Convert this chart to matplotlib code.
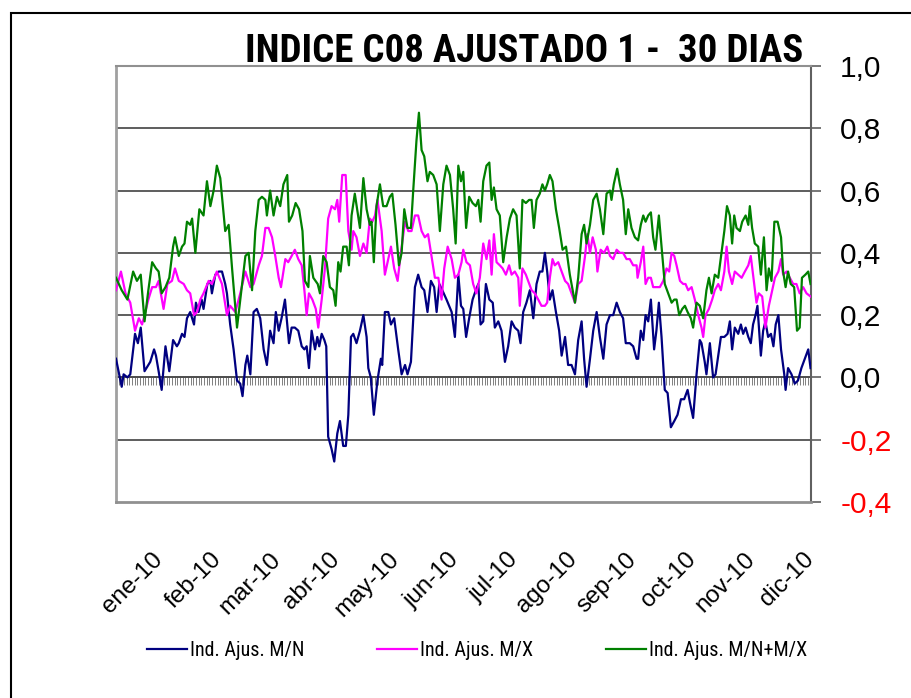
import matplotlib
matplotlib.use("Agg")
import matplotlib.pyplot as plt
import numpy as np
from matplotlib import font_manager
from matplotlib.patches import Rectangle

# --- data (day of year 2010, index value) ---
TITLE = "INDICE C08 AJUSTADO 1 -  30 DIAS"
MONTHS = ["ene-10", "feb-10", "mar-10", "abr-10", "may-10", "jun-10",
          "jul-10", "ago-10", "sep-10", "oct-10", "nov-10", "dic-10"]
Y_TICKS = [-0.4, -0.2, 0.0, 0.2, 0.4, 0.6, 0.8, 1.0]
NAMES = ["Ind. Ajus. M/N", "Ind. Ajus. M/X", "Ind. Ajus. M/N+M/X"]

MN = [(0, 0.06), (3, -0.03), (4, 0.01), (6, 0.00), (7.5, 0.01), (10, 0.14), (11.5, 0.11), (13, 0.16),
      (15, 0.02), (18, 0.05), (20, 0.09), (21, 0.07), (22.4, 0.02), (24, -0.04), (26, 0.10), (27, 0.06),
      (28, 0.02), (30, 0.12), (32, 0.10), (33, 0.11), (34.7, 0.14), (36, 0.13), (37.3, 0.19), (39, 0.21),
      (41, 0.17), (42, 0.24), (43.4, 0.21), (45, 0.25), (46, 0.22), (48, 0.30), (49.6, 0.31), (50.4, 0.27),
      (52.2, 0.33), (54, 0.34), (55.7, 0.34), (57.4, 0.30), (58.3, 0.27), (60, 0.17), (61.8, 0.09),
      (63.6, -0.01), (65.3, -0.02), (66.5, -0.06), (68, 0.04), (69, 0.07), (70.6, 0.01), (72.3, 0.21),
      (74, 0.22), (75.8, 0.19), (77.6, 0.09), (79.3, 0.04), (81, 0.15), (82.8, 0.11), (84, 0.21),
      (85.5, 0.15), (87, 0.19),
      (88.8, 0.25), (90.9, 0.11), (92.3, 0.16), (94, 0.16), (95.8, 0.15), (97.6, 0.10), (99, 0.09),
      (100.2, 0.10), (101.4, 0.03), (102.8, 0.15), (104.6, 0.09), (105.8, 0.13), (106.8, 0.10),
      (108.1, 0.14), (109.5, 0.12), (110.5, 0.10), (111.5, -0.19), (113.3, -0.23), (114.7, -0.27),
      (116.3, -0.18), (117.7, -0.14), (119.4, -0.22), (120.8, -0.22), (122.1, -0.12), (123.5, 0.13),
      (124.7, 0.14), (126.4, 0.11), (128.2, 0.15), (130, 0.20), (131.7, 0.13), (132.6, 0.03),
      (133.9, 0.00), (135.5, -0.12), (137.4, -0.01), (139.2, 0.06), (139.9, 0.04), (141.3, 0.21),
      (143.1, 0.21), (144.5, 0.17), (146.2, 0.19), (148.3, 0.09), (150.1, 0.01), (151.9, 0.04),
      (153.2, 0.01), (155, 0.05), (157.1, 0.29), (158.8, 0.33), (160.6, 0.29), (162, 0.28),
      (163.7, 0.21), (165.5, 0.31), (167.2, 0.29), (168.5, 0.21), (169.9, 0.30), (171.5, 0.28),
      (173.7, 0.25), (176.4, 0.21), (178.1, 0.13), (179.9, 0.33), (181.3, 0.23),
      (182.5, 0.22), (184, 0.13), (185.6, 0.19), (187.4, 0.25), (189.1, 0.28), (190.4, 0.30),
      (191.6, 0.17), (193, 0.18), (194.4, 0.30), (196.2, 0.25), (198, 0.24), (199.1, 0.16),
      (200.9, 0.18), (202.6, 0.15), (204.4, 0.05), (206.1, 0.10), (207.9, 0.18), (209.6, 0.16),
      (211.4, 0.15), (212.6, 0.11), (214, 0.21), (215.7, 0.24), (217.5, 0.28), (219.3, 0.19),
      (221, 0.30), (222.7, 0.34), (224.1, 0.34), (225.4, 0.40), (226.6, 0.34), (228, 0.25),
      (229.4, 0.28), (231.2, 0.21), (232.9, 0.15), (234.2, 0.07), (236, 0.13), (237.6, 0.04),
      (239.4, 0.04), (241.2, 0.01), (242.9, 0.12), (244.7, 0.18), (246, 0.06), (247.3, -0.03),
      (249.1, 0.06), (250.8, 0.15), (252.6, 0.21), (254.3, 0.13), (256.1, 0.06), (257.8, 0.17),
      (259.6, 0.20), (261.3, 0.20), (263.1, 0.24), (264.8, 0.21), (266.5, 0.19), (267.9, 0.11),
      (270, 0.11), (271.8, 0.10), (273.6, 0.06),
      (274.4, 0.06), (275.8, 0.15), (277.1, 0.12), (278.3, 0.20), (279.7, 0.18), (281.1, 0.25),
      (282.8, 0.09), (284, 0.15), (285.3, 0.24), (286.7, 0.13), (288.4, -0.04), (289.9, -0.05),
      (291.6, -0.16), (293.4, -0.14), (295.1, -0.12), (296.9, -0.07), (298.6, -0.07), (300.4, -0.04),
      (301.6, -0.08), (303.3, -0.13), (305.1, 0.01), (306.8, 0.12), (307.7, 0.11), (309.4, 0.05),
      (310.3, 0.01), (312.1, 0.11), (313.8, 0.00), (315.1, 0.01), (316.5, 0.07), (317.9, 0.13),
      (319.7, 0.13), (321.4, 0.14), (322.6, 0.18), (323.8, 0.09), (325.2, 0.16), (327, 0.14),
      (328.4, 0.17), (329.6, 0.14), (330.9, 0.16), (332.3, 0.13), (333.6, 0.11), (334.8, 0.17),
      (336.1, 0.20), (337.1, 0.23), (338.9, 0.07), (340.1, 0.15), (341.3, 0.18), (342.7, 0.13),
      (344.2, 0.14), (345.5, 0.10), (346.7, 0.17), (348.1, 0.20), (349.5, 0.09), (351.2, 0.01),
      (351.9, -0.04), (353.2, 0.03), (355, 0.01), (356.7, -0.02), (358.4, -0.01), (360.2, 0.03),
      (362, 0.06), (363.8, 0.09), (365, 0.03)]

MX = [(0, 0.28), (2.6, 0.34), (5, 0.27), (7.5, 0.24), (10, 0.15), (12, 0.19), (13.7, 0.17), (15.4, 0.21),
      (17, 0.25), (19, 0.29), (21, 0.29), (22.4, 0.31), (25, 0.22), (27, 0.30), (29.4, 0.31), (31, 0.35),
      (33, 0.31), (35.6, 0.30), (37.3, 0.28), (39, 0.27), (41, 0.20), (42.6, 0.21), (44.3, 0.25),
      (46, 0.27), (48.7, 0.31), (50.4, 0.30), (53, 0.34), (55.7, 0.30), (58.3, 0.20), (60, 0.23),
      (62.7, 0.21), (65.3, 0.27), (68, 0.34), (70.6, 0.29), (72.3, 0.30), (75, 0.36), (76.7, 0.39),
      (78.5, 0.48), (80.2, 0.48), (82, 0.45), (83.7, 0.39), (85.5, 0.32), (86.7, 0.29), (89, 0.38),
      (90.5, 0.37), (92.3, 0.39), (94, 0.41), (95.8, 0.38), (97.6, 0.36), (99, 0.28), (100.2, 0.20),
      (101.4, 0.27), (103.2, 0.25), (105, 0.22), (106.3, 0.16), (108.1, 0.25), (109.8, 0.35),
      (111.5, 0.51), (113.3, 0.55), (115.1, 0.54), (116.3, 0.57), (117.3, 0.50), (118.9, 0.65),
      (120.7, 0.65), (122.1, 0.47), (123.8, 0.41), (124.7, 0.47), (126.4, 0.45), (128.2, 0.39),
      (130, 0.43), (131.7, 0.40), (133.4, 0.51), (134.7, 0.50), (136.1, 0.52), (137.4, 0.57),
      (139.6, 0.47), (141.3, 0.33), (143.1, 0.38), (144.5, 0.42), (146.2, 0.35), (148, 0.31),
      (149.7, 0.40), (151.9, 0.50), (153.6, 0.47), (155.3, 0.47), (157.1, 0.52), (158.8, 0.52),
      (160.6, 0.47), (162.3, 0.45), (164, 0.46), (165.8, 0.39), (167.6, 0.32), (169.4, 0.32),
      (171.1, 0.25), (172.5, 0.35), (174.3, 0.42), (176.4, 0.38), (178.1, 0.32), (179.9, 0.33),
      (181.6, 0.37),
      (182.5, 0.41), (184.2, 0.37), (186, 0.36), (187.7, 0.30), (189.4, 0.27), (191.2, 0.32),
      (193, 0.43), (194.7, 0.38), (196.2, 0.44), (197.4, 0.33), (198.6, 0.46), (200, 0.37),
      (201.7, 0.36), (203.2, 0.35), (204.9, 0.33), (206.6, 0.36), (207.9, 0.33), (209.6, 0.34),
      (211.4, 0.32), (212.2, 0.23), (213.6, 0.35), (215.4, 0.33), (216.6, 0.31), (218.4, 0.28),
      (220.1, 0.27), (221.9, 0.25), (223.6, 0.23), (225.4, 0.23), (226.6, 0.24), (228, 0.32),
      (229.4, 0.38), (230.6, 0.36), (232.4, 0.37), (234.2, 0.34), (236, 0.31), (237.6, 0.30),
      (239.4, 0.27), (241.2, 0.24), (242.9, 0.30), (244.7, 0.31), (246.5, 0.39), (247.7, 0.46),
      (249.1, 0.40), (250.5, 0.45), (252.2, 0.41), (253, 0.34), (254.7, 0.41), (256.5, 0.40),
      (258.2, 0.42), (259.6, 0.39), (261.3, 0.38), (263.1, 0.41), (264.8, 0.40), (266.5, 0.40),
      (268.3, 0.38), (270, 0.38), (271.8, 0.36), (273.6, 0.36),
      (274.1, 0.32), (275.8, 0.37), (277.1, 0.42), (278.3, 0.30), (279.7, 0.32), (281.1, 0.32),
      (282.3, 0.29), (284, 0.29), (285.8, 0.29), (287.6, 0.31), (289.3, 0.35), (290.7, 0.34),
      (292, 0.40), (293.4, 0.39), (294.6, 0.36), (296.4, 0.31), (298.1, 0.30), (299.3, 0.30),
      (300.7, 0.28), (302.5, 0.29), (304.2, 0.25), (306, 0.20), (307.7, 0.16), (308.6, 0.13),
      (309.8, 0.20), (311.6, 0.22), (313.3, 0.25), (314.7, 0.28), (316.5, 0.30), (317.9, 0.28),
      (319.7, 0.34), (320.9, 0.42), (322.1, 0.34), (323.8, 0.30), (325.2, 0.34), (327, 0.33),
      (328.8, 0.32), (330.5, 0.34), (332.3, 0.36), (333.6, 0.39), (334.8, 0.33), (336.6, 0.24),
      (337.8, 0.27), (339.6, 0.26), (341.3, 0.16), (343.1, 0.23), (344.9, 0.28), (346.3, 0.32),
      (348.1, 0.34), (349.5, 0.38), (350.6, 0.33), (352.4, 0.34), (354.1, 0.32), (355.9, 0.30),
      (357.6, 0.30), (359.3, 0.27), (361.1, 0.29), (362.9, 0.27), (365, 0.26)]

MNMX = [(0, 0.32), (3, 0.28), (5, 0.26), (6, 0.25), (9, 0.34), (11, 0.31), (13, 0.33), (15, 0.18),
        (17, 0.28), (19, 0.37), (21, 0.35), (22.4, 0.34), (24, 0.27), (26, 0.29), (28, 0.32), (30, 0.42),
        (31, 0.45), (33, 0.39), (34.7, 0.42), (36, 0.43), (37.3, 0.50), (39, 0.49), (40, 0.51),
        (41.7, 0.40), (43.8, 0.54), (46, 0.52), (47.8, 0.63), (49.6, 0.55), (51.3, 0.60), (53, 0.68),
        (54.8, 0.64), (57.4, 0.47), (59.2, 0.49), (61, 0.35), (63.6, 0.16), (65.3, 0.25), (68, 0.39),
        (69.7, 0.40), (71.5, 0.28), (73.2, 0.47), (75, 0.57), (76.7, 0.58), (78.5, 0.57), (79.3, 0.52),
        (81, 0.60), (82.8, 0.52), (84.6, 0.58), (86.3, 0.55), (88, 0.62),
        (90, 0.65), (90.9, 0.50), (92.6, 0.52), (94.4, 0.56), (96.2, 0.54), (98, 0.47), (99.3, 0.31),
        (101.1, 0.29), (101.9, 0.39), (103.7, 0.32), (106, 0.30), (107.2, 0.27), (108.9, 0.39),
        (110.7, 0.37), (112.4, 0.29), (114.2, 0.28), (115.4, 0.23), (116.8, 0.37), (118, 0.34),
        (119.4, 0.42), (121.2, 0.42), (122.4, 0.36), (123.8, 0.52), (125.5, 0.59), (127, 0.53),
        (128.2, 0.48), (130, 0.64), (131.7, 0.54), (133.4, 0.49), (134.3, 0.50), (135.5, 0.37),
        (136.9, 0.55), (138.7, 0.62), (140.4, 0.55), (142.2, 0.55), (143.9, 0.58), (145.2, 0.59),
        (146.9, 0.49), (148.7, 0.36), (150.1, 0.40), (151.5, 0.54), (153.2, 0.48), (155, 0.48),
        (156.2, 0.60), (157.9, 0.76), (159.2, 0.85), (160.6, 0.73), (162, 0.71), (163.7, 0.63),
        (164.9, 0.66), (166.7, 0.65), (168.5, 0.62), (170.2, 0.47), (172, 0.62), (173.7, 0.68),
        (175.5, 0.65), (177.2, 0.54), (178.5, 0.43), (179.9, 0.68), (181.3, 0.63),
        (182.5, 0.66), (184, 0.48), (185.6, 0.58), (187.4, 0.56), (189.1, 0.55), (190.4, 0.57),
        (191.6, 0.50), (193, 0.63), (194.7, 0.68), (196.2, 0.69), (197.4, 0.57), (198.6, 0.61),
        (200, 0.54), (201.7, 0.52), (203.5, 0.37), (205.3, 0.45), (207, 0.51), (208.7, 0.54),
        (210.5, 0.52), (212.2, 0.35), (213.6, 0.57), (215.4, 0.56), (217.1, 0.57), (218.4, 0.57),
        (219.6, 0.48), (221, 0.57), (222.7, 0.59), (224.1, 0.62), (225.4, 0.60), (226.6, 0.62),
        (228, 0.65), (229.4, 0.63), (231.2, 0.54), (232.9, 0.48), (234.7, 0.41), (236.5, 0.42),
        (238.5, 0.33), (241.2, 0.24), (242.9, 0.32), (244.7, 0.46), (246, 0.49), (247.3, 0.43),
        (249.1, 0.49), (250.8, 0.57), (252.6, 0.59), (254.3, 0.54), (256.1, 0.46), (257.8, 0.59),
        (259.6, 0.60), (260.4, 0.57), (261.6, 0.62), (263.4, 0.67), (264.8, 0.62), (266.5, 0.57),
        (267.9, 0.46), (269.2, 0.54), (270.9, 0.48), (272.7, 0.45),
        (274.4, 0.44), (275.8, 0.49), (277.1, 0.52), (278.3, 0.50), (279.7, 0.52), (281.1, 0.53),
        (282.3, 0.45), (283.5, 0.41), (285.3, 0.52), (287, 0.40), (288.4, 0.30), (290.2, 0.27),
        (292, 0.24), (293.4, 0.25), (294.6, 0.25), (296, 0.20), (297.6, 0.22), (299, 0.23),
        (300.4, 0.21), (302.1, 0.19), (303.3, 0.16), (305.1, 0.24), (306.8, 0.23), (308.6, 0.19),
        (310.3, 0.28), (311.6, 0.32), (313, 0.27), (314.7, 0.33), (316.5, 0.32), (318.2, 0.40),
        (319.7, 0.47), (321.1, 0.55), (322.6, 0.52), (323.8, 0.43), (324.9, 0.52), (326.1, 0.48),
        (327.9, 0.47), (329.1, 0.50), (330.9, 0.52), (332.3, 0.49), (333.1, 0.55), (334.3, 0.48),
        (335.7, 0.43), (337.5, 0.42), (338.9, 0.33), (340.5, 0.45), (341.9, 0.28), (343.1, 0.35),
        (344.5, 0.31), (346, 0.50), (347.7, 0.50), (349.5, 0.45), (350.6, 0.34), (351.9, 0.29),
        (353.2, 0.34), (354.6, 0.30), (356.4, 0.29), (357.9, 0.15), (359.3, 0.16), (360.5, 0.32),
        (362.3, 0.33), (363.8, 0.34), (365, 0.30)]

COLORS = ["#000080", "#FF00FF", "#008000"]
ARIAL = ["Liberation Sans", "DejaVu Sans"]

# pick a narrow face for title and legend if one is installed, else shrink Arial-like text
installed = {f.name for f in font_manager.fontManager.ttflist}
narrow = next((n for n in ["Liberation Sans Narrow", "Roboto Condensed", "Open Sans Condensed"]
               if n in installed), None)
if narrow:
    NARROW = [narrow, "DejaVu Sans"]
    title_size, legend_size = 28, 14.5
else:
    NARROW = ARIAL
    title_size, legend_size = 23.6, 12

# --- figure and plot area ---
fig = plt.figure(figsize=(9.12, 6.98), dpi=100, facecolor="white")
ax = fig.add_axes([116 / 912, 196 / 698, 695 / 912, 436 / 698])
ax.set_xlim(0, 365)
ax.set_ylim(-0.4, 1.0)

# horizontal grid
for v in Y_TICKS[1:-1]:
    ax.axhline(v, color="#505050", lw=1.3, zorder=1)

# the category axis sits on y = 0, with one tick per trading day
zero_axis = ax.secondary_xaxis(0.4 / 1.4)
zero_axis.set_xticks(np.linspace(0, 365, 261))
zero_axis.tick_params(direction="out", length=6, width=0.7, color="#808080", labelbottom=False)
zero_axis.spines["bottom"].set_color("#303030")
zero_axis.spines["bottom"].set_linewidth(1.2)

# series lines
for pts, name, col in zip([MN, MX, MNMX], NAMES, COLORS):
    d, v = zip(*pts)
    ax.plot(d, v, color=col, lw=1.6, label=name, zorder=3)

# right value axis
ax.yaxis.tick_right()
ax.set_yticks(Y_TICKS)
ax.set_yticklabels([f"{v:.1f}".replace(".", ",") for v in Y_TICKS], family=ARIAL, fontsize=21.5)
for lbl, v in zip(ax.get_yticklabels(), Y_TICKS):
    lbl.set_color("#FF0000" if v < 0 else "black")
ax.tick_params(axis="y", length=7, width=1.2, color="#606060", pad=14)

# month labels below the plot
ax.set_xticks(np.arange(12) * 31.15 + 22.6)
ax.set_xticklabels(MONTHS, rotation=45, ha="right", va="center", rotation_mode="anchor",
                   family=ARIAL, fontsize=17.5)
ax.tick_params(axis="x", length=0, pad=39)

# plot-area border
ax.spines["left"].set_color("#a0a0a0")
ax.spines["left"].set_linewidth(2)
ax.spines["top"].set_color("#909090")
ax.spines["top"].set_linewidth(1.5)
ax.spines["bottom"].set_color("#909090")
ax.spines["bottom"].set_linewidth(2)
ax.spines["right"].set_color("#606060")
ax.spines["right"].set_linewidth(1.5)

# title
fig.text(803 / 912, 1 - 62 / 698, TITLE, ha="right", va="baseline",
         fontsize=title_size, weight="bold", family=NARROW)

# legend
fig.legend(loc="center", bbox_to_anchor=(0.523, 1 - 651 / 698), ncol=3, frameon=False,
           prop={"family": NARROW, "size": legend_size}, handlelength=2.0, handletextpad=0.15,
           columnspacing=3.6)

# outer chart frame (cut by the right and bottom edges)
fig.patches.append(Rectangle((11 / 912, -0.1), 1.2, 1.1 - 13 / 698, transform=fig.transFigure,
                             fill=False, ec="black", lw=1.5))

fig.savefig("out.png", dpi=100)
